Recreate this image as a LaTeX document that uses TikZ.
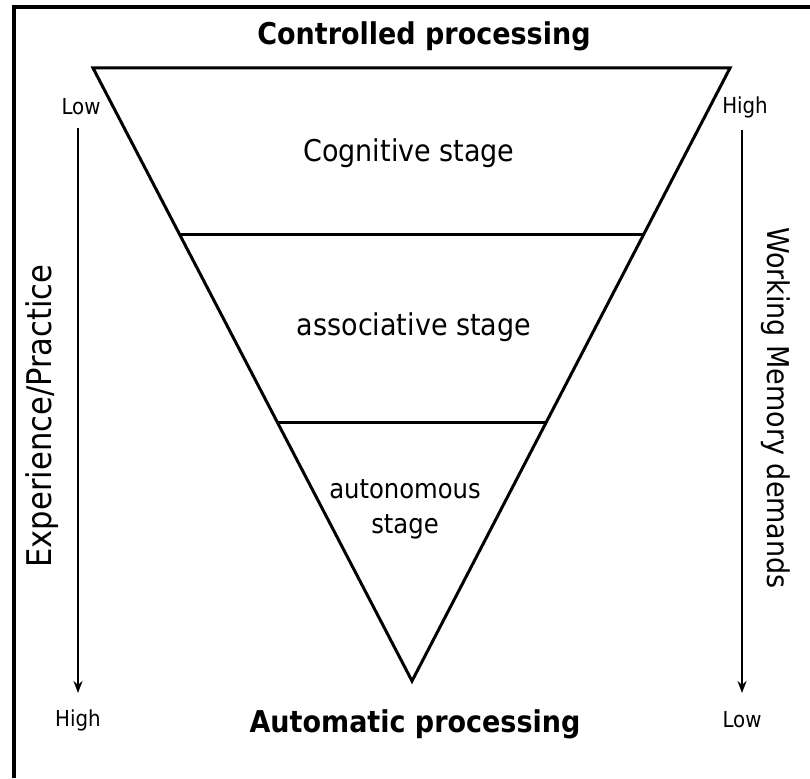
\documentclass[tikz,border=0pt]{standalone}
\usepackage{fontspec}
\setmainfont{DejaVu Sans Condensed}
\usetikzlibrary{arrows.meta,calc}

\begin{document}
\begin{tikzpicture}[x=1pt,y=-1pt,line width=3pt,>={Stealth[length=12pt,width=9pt]},
  lbl/.style={font=\fontsize{22}{24}\selectfont},
  stage/.style={font=\fontsize{30}{34}\selectfont,align=center},
  head/.style={font=\bfseries\fontsize{30}{34}\selectfont}]
  \useasboundingbox (0,0) rectangle (810,778);
  \draw[line width=3.5pt] (14,778) -- (14,7) -- (810,7);
  % funnel
  \coordinate (tl) at (93,68);
  \coordinate (tr) at (730,68);
  \coordinate (bot) at (412,681);
  \draw[line join=miter] (tl) -- (tr) -- (bot) -- cycle;
  \draw ($(tl)!0.2724!(bot)$) -- ($(tr)!0.2724!(bot)$);
  \draw ($(tl)!0.5791!(bot)$) -- ($(tr)!0.5791!(bot)$);
  \node[stage] (cog) at (409,153) {Cognitive stage};
  \node[stage] (ass) at (414,327) {associative stage};
  \node[stage,font=\fontsize{27}{35}\selectfont] (aut) at (405,509) {autonomous\\stage};
  \node[head] (ctrl) at (424,36) {Controlled processing};
  \node[head] (auto) at (415,724) {Automatic processing};
  % side arrows
  \coordinate (exA) at (78,128);
  \coordinate (exB) at (78,693);
  \coordinate (wmA) at (742,130);
  \coordinate (wmB) at (742,693);
  \draw[->,line width=2.3pt] (exA) -- (exB);
  \draw[->,line width=2.3pt] (wmA) -- (wmB);
  \node[lbl] (exlow) at (81,107) {Low};
  \node[lbl] (exhigh) at (78,720) {High};
  \node[lbl] (wmhigh) at (745,107) {High};
  \node[lbl] (wmlow) at (742,720) {Low};
  \node[stage,font=\fontsize{34}{38}\selectfont,rotate=90] (ex) at (42,416) {Experience/Practice};
  \node[stage,rotate=-90] (wm) at (776,408) {Working Memory demands};
\end{tikzpicture}
\end{document}
